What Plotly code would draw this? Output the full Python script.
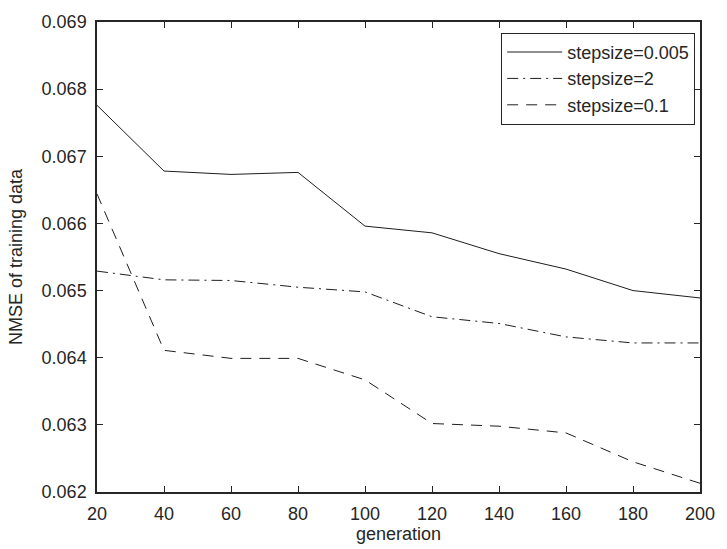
import plotly.graph_objects as go

generation = [20, 40, 60, 80, 100, 120, 140, 160, 180, 200]
nmse_step_0005 = [0.06776, 0.06678, 0.06673, 0.06676, 0.06596, 0.06586, 0.06555, 0.06532, 0.06500, 0.06489]
nmse_step_2 = [0.06529, 0.06516, 0.06515, 0.06505, 0.06498, 0.06461, 0.06451, 0.06431, 0.06422, 0.06422]
nmse_step_01 = [0.06644, 0.06411, 0.06399, 0.06399, 0.06367, 0.06302, 0.06298, 0.06288, 0.06245, 0.06213]

x_ticks = [20, 40, 60, 80, 100, 120, 140, 160, 180, 200]
y_ticks = [0.062, 0.063, 0.064, 0.065, 0.066, 0.067, 0.068, 0.069]

line_color = "#1e1e1e"
fig = go.Figure()
fig.add_trace(go.Scatter(x=generation, y=nmse_step_0005, mode="lines", name="stepsize=0.005",
                         line=dict(color=line_color, width=1, dash="solid")))
fig.add_trace(go.Scatter(x=generation, y=nmse_step_2, mode="lines", name="stepsize=2",
                         line=dict(color=line_color, width=1, dash="11px,5px,2px,5px")))
fig.add_trace(go.Scatter(x=generation, y=nmse_step_01, mode="lines", name="stepsize=0.1",
                         line=dict(color=line_color, width=1, dash="11px,8px")))

txt = "#262626"
axis_common = dict(showline=True, linecolor=txt, linewidth=1.5, mirror="ticks",
                   ticks="inside", ticklen=6, tickcolor=txt, showgrid=False, zeroline=False,
                   tickfont=dict(size=18, color=txt), ticklabelstandoff=5)
fig.update_xaxes(range=[20, 200], tickvals=x_ticks, ticktext=[str(v) for v in x_ticks],
                 title=dict(text="generation", font=dict(size=18, color=txt), standoff=0),
                 **axis_common)
fig.update_yaxes(range=[0.062, 0.069], tickvals=y_ticks, ticktext=[f"{v:.3f}" for v in y_ticks],
                 title=dict(text="NMSE of training data", font=dict(size=18, color=txt), standoff=14),
                 **axis_common)

fig.update_layout(
    width=727, height=549,
    margin=dict(l=97, r=17, t=13, b=52),
    paper_bgcolor="white", plot_bgcolor="white",
    font=dict(family="Liberation Sans, Arial, sans-serif", size=18, color=txt),
    legend=dict(x=0.992, y=0.977, xanchor="right", yanchor="top",
                bordercolor=txt, borderwidth=1, bgcolor="white",
                font=dict(size=18), tracegroupgap=0, itemwidth=55),
    showlegend=True,
)

fig.write_html("out.html", config={"displayModeBar": False},
               post_script="document.body.style.margin='0';document.body.style.padding='0';document.body.style.overflow='hidden';")
